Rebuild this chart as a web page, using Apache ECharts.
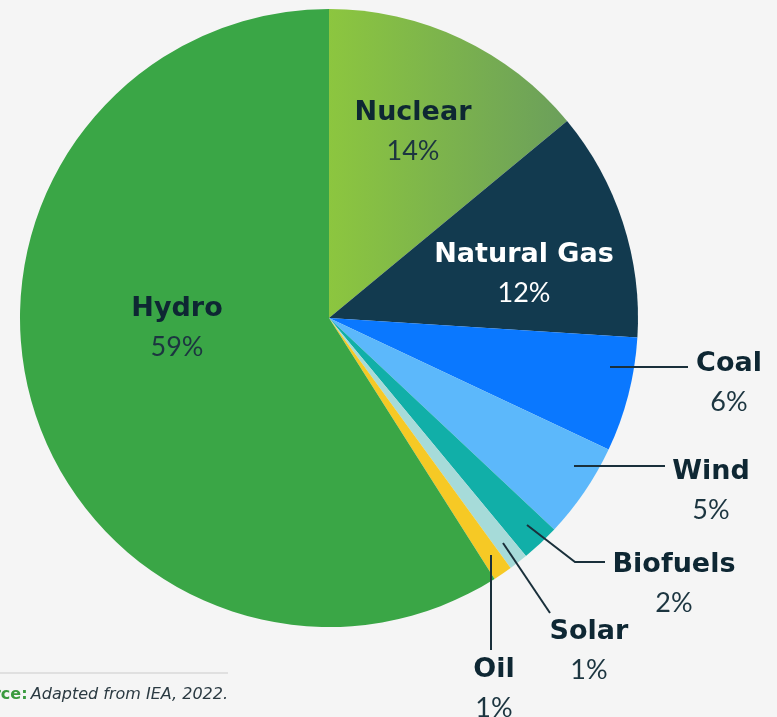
<!DOCTYPE html>
<html>
<head>
<meta charset="utf-8">
<script src="https://cdn.jsdelivr.net/npm/echarts@6/dist/echarts.min.js"></script>
<style>
html,body{margin:0;padding:0;background:#f5f5f5;}
#c{width:777px;height:717px;}
</style>
</head>
<body>
<div id="c"></div>
<script>
// Data
const categories = ['Nuclear', 'Natural Gas', 'Coal', 'Wind', 'Biofuels', 'Solar', 'Oil', 'Hydro'];
const shares = [14, 12, 6, 5, 2, 1, 1, 59];

// Styling
const colors = [null, '#123a4f', '#0a78ff', '#5cb8fb', '#11afa8', '#a6dbd9', '#f6c925', '#3aa646'];
const whiteText = [false, true, false, false, false, false, false, false];
// label block centres and leader lines (layout only)
const labelPos = [
  {x: 413, y: 132},
  {x: 524, y: 274},
  {x: 729, y: 383, line: [[610, 367], [688, 367]]},
  {x: 711, y: 491, line: [[574, 466], [665, 466]]},
  {x: 674, y: 584, line: [[527, 525], [575, 562], [605, 562]]},
  {x: 589, y: 651, line: [[503, 543], [550, 613]]},
  {x: 494, y: 689, line: [[491, 555], [491, 650]]},
  {x: 177, y: 328}
];

const nuclearGradient = {
  type: 'linear', x: 0, y: 0, x2: 1, y2: 0,
  colorStops: [{offset: 0, color: '#8cc63f'}, {offset: 1, color: '#6b9f5b'}]
};

const data = categories.map((c, i) => ({
  name: c,
  value: shares[i],
  itemStyle: {color: i === 0 ? nuclearGradient : colors[i]}
}));

const leaderLines = labelPos.filter(p => p.line).map(p => ({
  type: 'polyline',
  z: 100,
  shape: {points: p.line},
  style: {stroke: '#1a303b', lineWidth: 2, fill: null}
}));

const chart = echarts.init(document.getElementById('c'), null, {renderer: 'canvas'});
chart.setOption({
  backgroundColor: '#f5f5f5',
  animation: false,
  series: [{
    type: 'pie',
    center: [329, 318],
    radius: [0, 309],
    startAngle: 90,
    clockwise: true,
    avoidLabelOverlap: false,
    data: data,
    itemStyle: {borderWidth: 0},
    label: {
      show: true,
      position: 'outside',
      formatter: function (p) {
        const w = whiteText[p.dataIndex];
        return '{' + (w ? 'nw' : 'n') + '|' + p.name + '}\n{' + (w ? 'pw' : 'p') + '|' + p.value + '%}';
      },
      rich: {
        n: {fontFamily: 'DejaVu Sans', fontWeight: 'bold', fontSize: 27, color: '#0e2733', lineHeight: 38, align: 'center'},
        p: {fontFamily: 'Lato', fontWeight: 'normal', fontSize: 27, color: '#1c3540', lineHeight: 38, align: 'center'},
        nw: {fontFamily: 'DejaVu Sans', fontWeight: 'bold', fontSize: 27, color: '#ffffff', lineHeight: 38, align: 'center'},
        pw: {fontFamily: 'Lato', fontWeight: 'normal', fontSize: 27, color: '#ffffff', lineHeight: 38, align: 'center'}
      }
    },
    labelLine: {show: false},
    labelLayout: function (params) {
      const cfg = labelPos[params.dataIndex];
      return {x: cfg.x, y: cfg.y, align: 'center', verticalAlign: 'middle'};
    }
  }],
  graphic: leaderLines.concat([
    {
      type: 'line',
      shape: {x1: 0, y1: 673, x2: 228, y2: 673},
      style: {stroke: '#d9d9d9', lineWidth: 1.5}
    },
    {
      type: 'text',
      x: 228, y: 695,
      style: {
        text: '{s|Source:} {t|Adapted from IEA, 2022.}',
        align: 'right',
        verticalAlign: 'middle',
        rich: {
          s: {fontFamily: 'DejaVu Sans', fontWeight: 'bold', fontSize: 16, fill: '#3a9a3e'},
          t: {fontFamily: 'DejaVu Sans', fontStyle: 'italic', fontSize: 16, fill: '#2b3a42'}
        }
      }
    }
  ])
});
</script>
</body>
</html>
